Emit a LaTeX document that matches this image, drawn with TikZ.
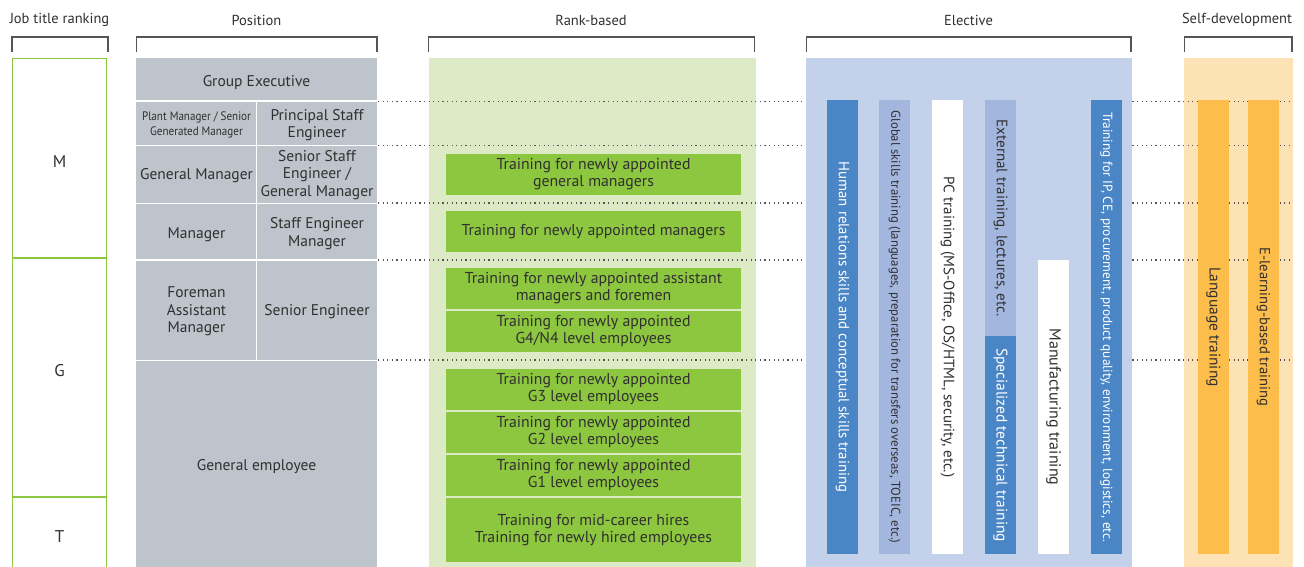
\documentclass[tikz,border=0pt]{standalone}
\usepackage{fontspec}
\setmainfont{PT Sans}
\definecolor{txt}{HTML}{303030}
\definecolor{posgray}{HTML}{BDC4CB}
\definecolor{lgreen}{HTML}{DCEAC5}
\definecolor{mgreen}{HTML}{8DC63F}
\definecolor{lblue}{HTML}{C3D1EA}
\definecolor{dblue}{HTML}{4A86C5}
\definecolor{mblue}{HTML}{A3B7DE}
\definecolor{lorange}{HTML}{FDE2B5}
\definecolor{morange}{HTML}{FDBD4B}
\definecolor{brk}{HTML}{555555}
\newcommand\fs[2]{\fontsize{#1}{#2}\selectfont}
\tikzset{
  hdr/.style={text=txt, font=\fs{14.5}{16}, inner sep=0pt},
  bracketline/.style={draw=brk, line width=1.3pt},
  area/.style={anchor=north west, inner sep=0pt, outer sep=0pt},
  cellt/.style={align=center, text=txt, font=\fs{15.5}{17.5}, inner sep=0pt, yshift=-1.5pt},
  gbox/.style={area, fill=mgreen, align=center, text=txt, font=\fs{15.8}{17}, minimum width=295},
  bar/.style={rotate=-90, inner sep=0pt, outer sep=0pt, minimum height=31},
  dotl/.style={draw=brk, line width=1.3pt, dash pattern=on 1.2pt off 3.4pt},
  lvl/.style={text=txt, font=\fs{17}{20}, inner sep=0pt, yshift=-1.5pt}
}
\begin{document}
\begin{tikzpicture}[x=1pt,y=-1pt]
\useasboundingbox (0,0) rectangle (1304,567);
% headers
\node[hdr] (hjob) at (59.5,20) {Job title ranking};
\node[hdr] (hpos) at (256.5,20) {Position};
\node[hdr] (hrank) at (591,20) {Rank-based};
\node[hdr] (helec) at (968.5,20) {Elective};
\node[hdr] (hself) at (1237,20) {Self-development};
% brackets
\draw[bracketline] (12,52) |- (108,37) -- (108,52);
\draw[bracketline] (136.5,52) |- (377,37) -- (377,52);
\draw[bracketline] (428.5,52) |- (754.5,37) -- (754.5,52);
\draw[bracketline] (806.5,52) |- (1131,37) -- (1131,52);
\draw[bracketline] (1184.5,52) |- (1292,37) -- (1292,52);
% job title column
\draw[mgreen, line width=1.5pt] (12.5,570) -- (12.5,58.5) -- (106.5,58.5) -- (106.5,570);
\draw[mgreen, line width=1.5pt] (12.5,258) -- (106.5,258);
\draw[mgreen, line width=1.5pt] (12.5,497) -- (106.5,497);
\node[lvl] (lm) at (59.5,160) {M};
\node[lvl] (lg) at (59.5,369) {G};
\node[lvl] (lt) at (59.5,535) {T};
% position column
\node[area, fill=posgray, minimum width=241, minimum height=509] (posbg) at (136,58) {};
\draw[white, line width=1.6pt] (136,100.8) -- (377,100.8);
\draw[white, line width=1.6pt] (136,145.5) -- (377,145.5);
\draw[white, line width=1.6pt] (136,203.5) -- (377,203.5);
\draw[white, line width=1.6pt] (136,259.8) -- (377,259.8);
\draw[white, line width=1.6pt] (136,360.5) -- (377,360.5);
\draw[white, line width=1.6pt] (256.5,100.8) -- (256.5,360.5);
\node[cellt] (p1) at (256.5,81) {Group Executive};
\node[cellt, font=\fs{12.3}{15}] (p2a) at (196.5,123.5) {\scalebox{0.9}[1]{Plant Manager / Senior}\\\scalebox{0.9}[1]{Generated Manager}};
\node[cellt] (p2b) at (317,123.5) {Principal Staff\\Engineer};
\node[cellt] (p3a) at (196.5,174.5) {General Manager};
\node[cellt] (p3b) at (317,173.5) {Senior Staff\\Engineer /\\General Manager};
\node[cellt] (p4a) at (196.5,233) {Manager};
\node[cellt] (p4b) at (317,232) {Staff Engineer\\Manager};
\node[cellt] (p5a) at (196.5,310) {Foreman\\Assistant\\Manager};
\node[cellt] (p5b) at (317,310) {Senior Engineer};
\node[cellt] (p6) at (256.5,465) {General employee};
% backgrounds
\node[area, fill=lgreen, minimum width=327.5, minimum height=509] (rankbg) at (428.5,58) {};
\node[area, fill=lorange, minimum width=108.5, minimum height=509] (selfbg) at (1184,58) {};
% dotted level lines
\foreach \yy [count=\i] in {101.5,145.5,203,260,360}{
  \coordinate (dl\i) at (378,\yy);
  \coordinate (dr\i) at (1293,\yy);
  \draw[dotl] (dl\i) -- (dr\i);
}
\node[area, fill=lblue, minimum width=325.5, minimum height=509] (elecbg) at (806,58) {};
% rank-based boxes
\node[gbox, minimum height=41] (r1) at (446,154) {Training for newly appointed\\general managers};
\node[gbox, minimum height=41] (r2) at (446,211) {Training for newly appointed managers};
\node[gbox, minimum height=41] (r3) at (446,268) {Training for newly appointed assistant\\managers and foremen};
\node[gbox, minimum height=41] (r4) at (446,311) {Training for newly appointed\\G4/N4 level employees};
\node[gbox, minimum height=41] (r5) at (446,369) {Training for newly appointed\\G3 level employees};
\node[gbox, minimum height=41] (r6) at (446,412) {Training for newly appointed\\G2 level employees};
\node[gbox, minimum height=41] (r7) at (446,455) {Training for newly appointed\\G1 level employees};
\node[gbox, minimum height=64] (r8) at (446,498) {Training for mid-career hires\\Training for newly hired employees};
% elective bars
\node[bar, fill=dblue, text=white, minimum width=454, font=\fs{14.8}{16}] (e1) at (842.5,327) {Human relations skills and conceptual skills training};
\node[bar, fill=mblue, text=txt, minimum width=454, font=\fs{12.75}{14}] (e2) at (894.5,327) {Global skills training (languages, preparation for transfers overseas, TOEIC, etc.)};
\node[bar, fill=white, text=txt, minimum width=454, font=\fs{15}{16}] (e3) at (947.5,327) {PC training (MS-Office, OS/HTML, security, etc.)};
\node[bar, fill=mblue, text=txt, minimum width=236, font=\fs{15.1}{16}] (e4a) at (1000.5,218) {External training, lectures, etc.};
\node[bar, fill=dblue, text=white, minimum width=218, font=\fs{15.4}{16}] (e4b) at (1000.5,445) {Specialized technical training};
\node[bar, fill=white, text=txt, minimum width=294, font=\fs{16}{16}] (e5) at (1053.5,407) {Manufacturing training};
\node[bar, fill=dblue, text=white, minimum width=454, font=\fs{13.3}{14}] (e6) at (1106.5,327) {Training for IP, CE, procurement, product quality, environment, logistics, etc.};
% self-development bars
\node[bar, fill=morange, text=txt, minimum width=454, font=\fs{15.4}{16}] (s1) at (1213.5,327) {Language training};
\node[bar, fill=morange, text=txt, minimum width=454, font=\fs{14.6}{16}] (s2) at (1263.5,327) {E-learning-based training};
\end{tikzpicture}
\end{document}
